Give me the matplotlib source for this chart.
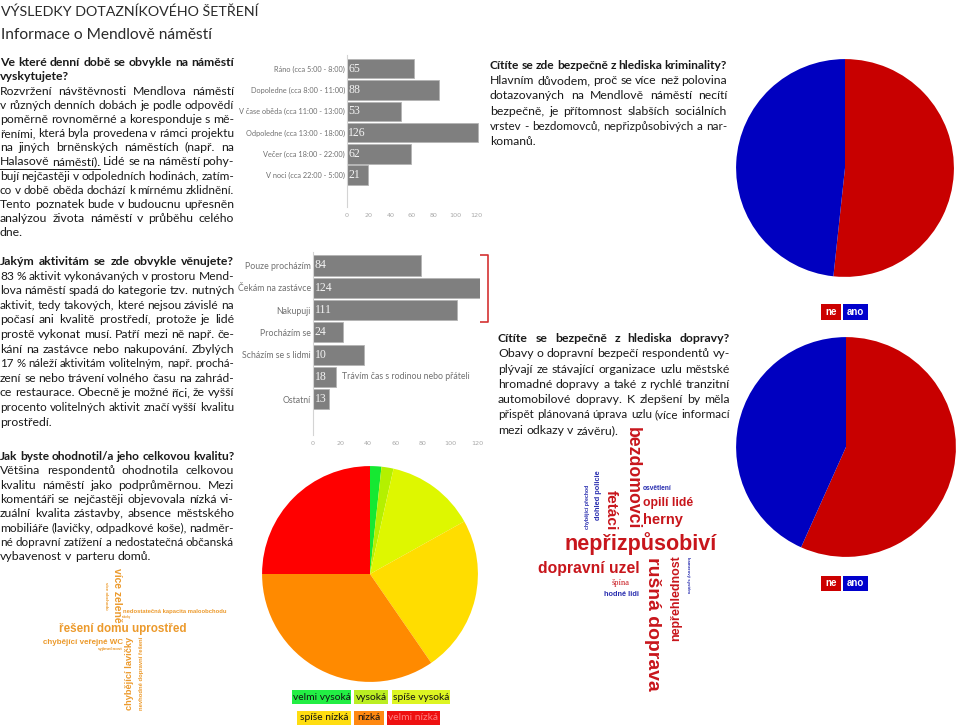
import matplotlib
matplotlib.use("Agg")
import matplotlib.pyplot as plt
from matplotlib.patches import Rectangle

BODY = "Lato"
CLOUD = "Liberation Sans"
SERIF = "Liberation Serif"

# --- data ---------------------------------------------------------------
time_labels = ["Ráno (cca 5:00 - 8:00)", "Dopoledne (cca 8:00 - 11:00)",
               "V čase oběda (cca 11:00 - 13:00)", "Odpoledne (cca 13:00 - 18:00)",
               "Večer (cca 18:00 - 22:00)", "V noci (cca 22:00 - 5:00)"]
time_values = [62, 85, 50, 121, 59, 19]
time_counts = ["65", "88", "53", "126", "62", "21"]

act_labels = ["Pouze procházím", "Čekám na zastávce", "Nakupuji", "Procházím se",
              "Scházím se s lidmi", "", "Ostatní"]
act_values = [79, 122, 105, 22, 37, 17, 12]
act_counts = ["84", "124", "111", "24", "10", "18", "13"]
act_note = "Trávím čas s rodinou nebo přáteli"
necessary_share = "83%"

yes_no = ["ne", "ano"]
crime_values = [51.7, 48.3]
traffic_values = [56.7, 43.3]

quality_labels = ["velmi vysoká", "vysoká", "spíše vysoká", "spíše nízká", "nízká", "velmi nízká"]
quality_values = [1.7, 1.8, 13.4, 23.5, 34.6, 25.0]

title = "VÝSLEDKY DOTAZNÍKOVÉHO ŠETŘENÍ"
subtitle = "Informace o Mendlově náměstí"

text_time = ["Ve které denní době se obvykle na náměstí",
             "vyskytujete?",
             "Rozvržení návštěvnosti Mendlova náměstí",
             "v různých denních dobách je podle odpovědí",
             "poměrně rovnoměrné a koresponduje s mě-",
             "řeními, která byla provedena v rámci projektu",
             "na jiných brněnských náměstích (např. na",
             "Halasově náměstí). Lidé se na náměstí pohy-",
             "bují nejčastěji v odpoledních hodinách, zatím-",
             "co v době oběda dochází k mírnému zklidnění.",
             "Tento poznatek bude v budoucnu upřesněn",
             "analýzou života náměstí v průběhu celého",
             "dne."]
text_act = ["Jakým aktivitám se zde obvykle věnujete?",
            "83 % aktivit vykonávaných v prostoru Mend-",
            "lova náměstí spadá do kategorie tzv. nutných",
            "aktivit, tedy takových, které nejsou závislé na",
            "počasí ani kvalitě prostředí, protože je lidé",
            "prostě vykonat musí. Patří mezi ně např. če-",
            "kání na zastávce nebo nakupování. Zbylých",
            "17 % náleží aktivitám volitelným, např. prochá-",
            "zení se nebo trávení volného času na zahrád-",
            "ce restaurace. Obecně je možné říci, že vyšší",
            "procento volitelných aktivit značí vyšší kvalitu",
            "prostředí."]
text_quality = ["Jak byste ohodnotil/a jeho celkovou kvalitu?",
                "Většina respondentů ohodnotila celkovou",
                "kvalitu náměstí jako podprůměrnou. Mezi",
                "komentáři se nejčastěji objevovala nízká vi-",
                "zuální kvalita zástavby, absence městského",
                "mobiliáře (lavičky, odpadkové koše), nadměr-",
                "né dopravní zatížení a nedostatečná občanská",
                "vybavenost v parteru domů."]
text_crime = ["Cítíte se zde bezpečně z hlediska kriminality?",
              "Hlavním důvodem, proč se více než polovina",
              "dotazovaných na Mendlově náměstí necítí",
              "bezpečně, je přítomnost slabších sociálních",
              "vrstev - bezdomovců, nepřizpůsobivých a nar-",
              "komanů."]
text_traffic = ["Cítíte se bezpečně z hlediska dopravy?",
                "Obavy o dopravní bezpečí respondentů vy-",
                "plývají ze stávající organizace uzlu městské",
                "hromadné dopravy a také z rychlé tranzitní",
                "automobilové dopravy. K zlepšení by měla",
                "přispět plánovaná úprava uzlu (více informací",
                "mezi odkazy v závěru)."]

# word clouds: (text, x, y, length, rotation, colour)
red, blue, orange = "#c8161c", "#2a2fb0", "#ec9a2c"
cloud_safety = [("bezdomovci", 632, 478, 102, 270, red),
                ("fetáci", 611, 510, 40, 270, red),
                ("dohled policie", 599, 495, 50, 90, blue),
                ("chybějící přechod", 588, 507, 44, 90, blue),
                ("osvětlení", 657, 489, 29, 0, blue),
                ("opilí lidé", 668, 503, 50, 0, red),
                ("herny", 663, 520, 40, 0, red),
                ("nepřizpůsobiví", 641, 544, 152, 0, red),
                ("dopravní uzel", 589, 568, 102, 0, red),
                ("rušná doprava", 653, 624, 134, 270, red),
                ("nepřehlednost", 676, 598, 86, 90, red),
                ("kamerový systém", 688, 575, 37, 270, blue),
                ("hodné lidi", 622, 595, 35, 0, blue)]
cloud_quality = [("více zeleně", 117, 595, 54, 270, orange),
                 ("více obchodů", 106, 596, 28, 270, orange),
                 ("nedostatečná kapacita maloobchodu", 175, 611, 104, 0, orange),
                 ("stánky", 127, 617, 9, 0, orange),
                 ("řešení domu uprostřed", 123, 629, 127, 0, orange),
                 ("chybějící veřejné WC", 83, 642, 80, 0, orange),
                 ("vyjímečnost", 110, 649, 25, 0, orange),
                 ("chybějící lavičky", 130, 673, 73, 90, orange),
                 ("nevhodné dopravní řešení", 142, 673, 73, 90, orange)]

# --- figure -------------------------------------------------------------
fig = plt.figure(figsize=(9.6, 7.27), dpi=100)
bg = fig.add_axes([0, 0, 1, 1])
bg.set_xlim(0, 960)
bg.set_ylim(727, 0)
bg.axis("off")
renderer = fig.canvas.get_renderer()


def px_rect(l, t, r, b):
    return [l / 960, 1 - b / 727, (r - l) / 960, (b - t) / 727]


def width_of(t):
    return t.get_window_extent(renderer).width


def fit(x, y, s, length, rot=0, color="#222222", weight="bold", family=CLOUD, ha="center"):
    t = bg.text(x, y, s, fontsize=10, fontweight=weight, family=family, color=color,
                ha=ha, va="center")
    t.set_fontsize(10 * length / width_of(t))
    t.set_rotation(rot)
    t.set_rotation_mode("anchor")
    return t


def line_just(x0, x1, y, line, size, weight="normal", justify=True):
    words = line.split(" ")
    # baseline sits a little under the visual centre of the line
    objs = [bg.text(0, y + 4, w, fontsize=size, fontweight=weight, family=BODY,
                    color="#1a1a1a", va="baseline", ha="left") for w in words]
    min_gap = 2.4
    # shrink the line a little if it cannot fit with normal spacing
    for _ in range(20):
        ws = [width_of(o) for o in objs]
        if sum(ws) + min_gap * (len(words) - 1) <= x1 - x0:
            break
        for o in objs:
            o.set_fontsize(o.get_fontsize() * 0.985)
    if justify and len(words) > 1:
        gap = (x1 - x0 - sum(ws)) / (len(words) - 1)
    else:
        gap = size * 0.26 * 100 / 72
    x = x0
    for o, w in zip(objs, ws):
        o.set_x(x)
        x += w + gap
    return objs, ws


def paragraph(x0, x1, y0, dy, lines, size, bold, nojust):
    out = []
    for i, line in enumerate(lines):
        out.append(line_just(x0, x1, y0 + i * dy, line, size,
                             "bold" if i in bold else "normal", i not in nojust))
    return out


fit(1, 12, title, 258, color="#2a2a2a", weight="normal", family=BODY, ha="left")
fit(1, 35, subtitle, 212, color="#2a2a2a", weight="normal", family=BODY, ha="left")

rows = paragraph(0, 234, 62.3, 14.15, text_time, 8.8, {0, 1}, {1, 12})
objs, ws = rows[7]
x_end = objs[1].get_position()[0] + ws[1]
bg.plot([0, x_end], [168.5, 168.5], color="#1a1a1a", lw=0.7)
paragraph(0, 234, 261, 14.6, text_act, 8.8, {0}, {11})
paragraph(0, 234, 456, 14.3, text_quality, 8.8, {0}, {7})
paragraph(490, 727, 65, 15.2, text_crime, 8.8, {0}, {5})
paragraph(498, 730, 338, 15.3, text_traffic, 8.8, {0}, {6})


# --- bar charts ---------------------------------------------------------
def bar_chart(rect, labels, values, counts, ylim, xmax, label_size):
    ax = fig.add_axes(rect)
    n = len(values)
    ax.barh(range(n), values, height=0.91, color="#7f7f7f", edgecolor="#b4b4b4", linewidth=0.6)
    ax.set_xlim(0, xmax)
    ax.set_ylim(*ylim)
    ax.set_yticks(range(n))
    ax.set_yticklabels(labels, fontsize=label_size, color="#707070", family=BODY)
    ax.set_xticks(range(0, 121, 20))
    ax.tick_params(axis="x", length=0, labelsize=4.6, labelcolor="#a8a8a8", pad=4)
    ax.tick_params(axis="y", length=0, pad=1.5)
    for sp in ["top", "right", "bottom"]:
        ax.spines[sp].set_visible(False)
    ax.spines["left"].set_color("#d4d4d4")
    for i, c in enumerate(counts):
        ax.text(1.2, i, c, va="center", ha="left", family=SERIF, fontsize=8.5, color="#f4f4f4")
    return ax


bar_chart(px_rect(347, 55, 480, 207), time_labels, time_values, time_counts,
          (6.5, -0.65), 123, 5.3)
ax2 = bar_chart(px_rect(313, 252, 480, 435), act_labels, act_values, act_counts,
                (7.6, -0.6), 122, 6.3)
ax2.text(act_values[5] + 4, 5, act_note, va="center", ha="left", family=BODY,
         fontsize=6.3, color="#707070")

bg.plot([476, 488, 488, 479], [255, 255, 322, 322], color="#d43232", lw=1.2)
bg.text(469, 311, necessary_share, family=SERIF, color="#c0282a", fontsize=9.5,
        ha="center", va="center")


# --- pies ---------------------------------------------------------------
def pie(cx, cy, r, values, colors):
    ax = fig.add_axes(px_rect(cx - r, cy - r, cx + r, cy + r))
    ax.pie(values, colors=colors, startangle=90, counterclock=False,
           wedgeprops=dict(linewidth=0))
    ax.set_xlim(-1.01, 1.01)
    ax.set_ylim(-1.01, 1.01)
    return ax


yn_colors = ["#c80000", "#0000c0"]
pie(845, 168, 110, crime_values, yn_colors)
pie(846, 447, 111, traffic_values, yn_colors)
quality_colors = ["#16e832", "#b4f000", "#def700", "#ffdd00", "#ff8a00", "#ff0000"]
pie(370, 574, 109, quality_values, quality_colors)


def legend_box(x0, x1, y0, y1, s, fc, tc, size, weight="normal", family=BODY):
    bg.add_patch(Rectangle((x0, y0), x1 - x0, y1 - y0, fc=fc, ec="none"))
    bg.text((x0 + x1) / 2, (y0 + y1) / 2, s, ha="center", va="center", color=tc,
            fontsize=size, fontweight=weight, family=family)


for y0, y1 in [(304, 320), (576, 591)]:
    legend_box(821, 841, y0, y1, yes_no[0], "#cc0000", "white", 7, "bold", CLOUD)
    legend_box(843, 868, y0, y1, yes_no[1], "#0000cc", "white", 7, "bold", CLOUD)

box_fc = ["#22ee44", "#bbee22", "#ddf522", "#ffdd11", "#ff8811", "#ee1111"]
box_tc = ["#111111"] * 5 + ["#ff8080"]
box_x = [(292, 351), (354, 388), (392, 450), (297, 351), (354, 384), (387, 440)]
box_y = [(690, 704)] * 3 + [(711, 725)] * 3
for lab, fc, tc, (x0, x1), (y0, y1) in zip(quality_labels, box_fc, box_tc, box_x, box_y):
    legend_box(x0, x1, y0, y1, lab, fc, tc, 7.4)

# --- word clouds --------------------------------------------------------
for s, x, y, length, rot, col in cloud_safety + cloud_quality:
    fit(x, y, s, length, rot, col)
fit(621, 583, "špína", 18, 0, red, "normal", SERIF)

fig.savefig("out.png", dpi=100)
